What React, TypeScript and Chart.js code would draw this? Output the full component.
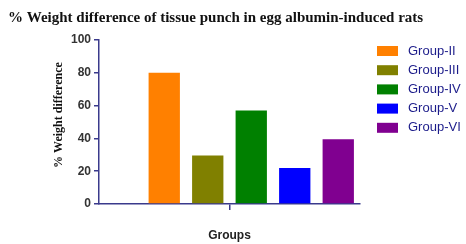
import React, { useEffect, useRef } from "react";
import { Chart, registerables } from "chart.js";

Chart.register(...registerables);

const groups = ["Group-I", "Group-II", "Group-III", "Group-IV", "Group-V", "Group-VI"];
const values: (number | null)[] = [null, 80, 29.5, 57, 22, 39.5];
const colors = ["#ffffff", "#FF8000", "#808000", "#008000", "#0000FF", "#800090"];
const legendGroups = ["Group-II", "Group-III", "Group-IV", "Group-V", "Group-VI"];
const yTicks = [0, 20, 40, 60, 80, 100];
const titleText = "% Weight difference of tissue punch in egg albumin-induced rats";
const yTitle = "% Weight difference";
const xTitle = "Groups";

const AXIS = "#3a3a8c";

export default function App() {
  const ref = useRef<HTMLCanvasElement | null>(null);
  useEffect(() => {
    if (!ref.current) return;
    const extras = {
      id: "extras",
      afterDraw(chart: any) {
        const ctx = chart.ctx;
        ctx.save();
        // main title
        ctx.fillStyle = "#111";
        ctx.font = "bold 15px 'Liberation Serif', 'Times New Roman', serif";
        ctx.textAlign = "left";
        ctx.textBaseline = "alphabetic";
        ctx.fillText(titleText, 8, 22);
        // y title
        ctx.save();
        ctx.translate(59, 115);
        ctx.rotate(-Math.PI / 2);
        ctx.font = "bold 12px 'Liberation Serif', 'Times New Roman', serif";
        ctx.textAlign = "center";
        ctx.textBaseline = "middle";
        ctx.fillText(yTitle, 0, 0);
        ctx.restore();
        // legend
        chart.data.datasets.forEach((ds: any) => {
          const idx = legendGroups.indexOf(ds.label);
          if (idx < 0) return;
          const cy = 51 + idx * 19.2;
          ctx.fillStyle = ds.backgroundColor;
          ctx.fillRect(377, cy - 5, 21, 10);
          ctx.fillStyle = "#1c1c8a";
          ctx.font = "13px 'Liberation Sans', Arial, sans-serif";
          ctx.textAlign = "left";
          ctx.textBaseline = "middle";
          ctx.fillText(ds.label, 408, cy);
        });
        ctx.restore();
      },
    };
    const chart = new Chart(ref.current, {
      type: "bar",
      data: {
        labels: [""],
        datasets: groups.map((g, i) => ({
          label: g,
          data: [values[i]],
          backgroundColor: colors[i],
          borderWidth: 0,
          categoryPercentage: 1,
          barPercentage: 0.72,
        })),
      },
      options: {
        animation: false,
        responsive: false,
        maintainAspectRatio: false,
        layout: { padding: { left: 0, top: 40, right: 106, bottom: 0 } },
        plugins: { legend: { display: false }, title: { display: false }, tooltip: { enabled: false } },
        scales: {
          x: {
            afterFit: (s: any) => { s.height = 40; },
            grid: { drawOnChartArea: false, offset: false, tickLength: 6, color: AXIS, lineWidth: 1.5 },
            border: { color: AXIS, width: 1.5 },
            ticks: { display: true, font: { size: 1 } },
            title: {
              display: true,
              text: xTitle,
              color: "#222",
              font: { family: "'Liberation Sans', Arial, sans-serif", size: 12, weight: "bold" },
              padding: { top: 0, bottom: 1 },
            },
          },
          y: {
            min: 0,
            max: 100,
            afterFit: (s: any) => { s.width = 99; },
            afterBuildTicks: (s: any) => { s.ticks = yTicks.map((v) => ({ value: v })); },
            grid: { drawOnChartArea: false, tickLength: 5, color: AXIS, lineWidth: 1.5 },
            border: { color: AXIS, width: 1.5 },
            ticks: {
              padding: 3,
              color: "#333",
              font: { family: "'Liberation Sans', Arial, sans-serif", size: 12, weight: "bold" },
            },
          },
        },
      },
      plugins: [extras],
    } as any);
    return () => chart.destroy();
  }, []);
  return (
    <div style={{ position: "fixed", left: 0, top: 0, width: 466, height: 244, background: "#fff" }}>
      <canvas ref={ref} width={466} height={244} style={{ width: 466, height: 244 }} />
    </div>
  );
}
